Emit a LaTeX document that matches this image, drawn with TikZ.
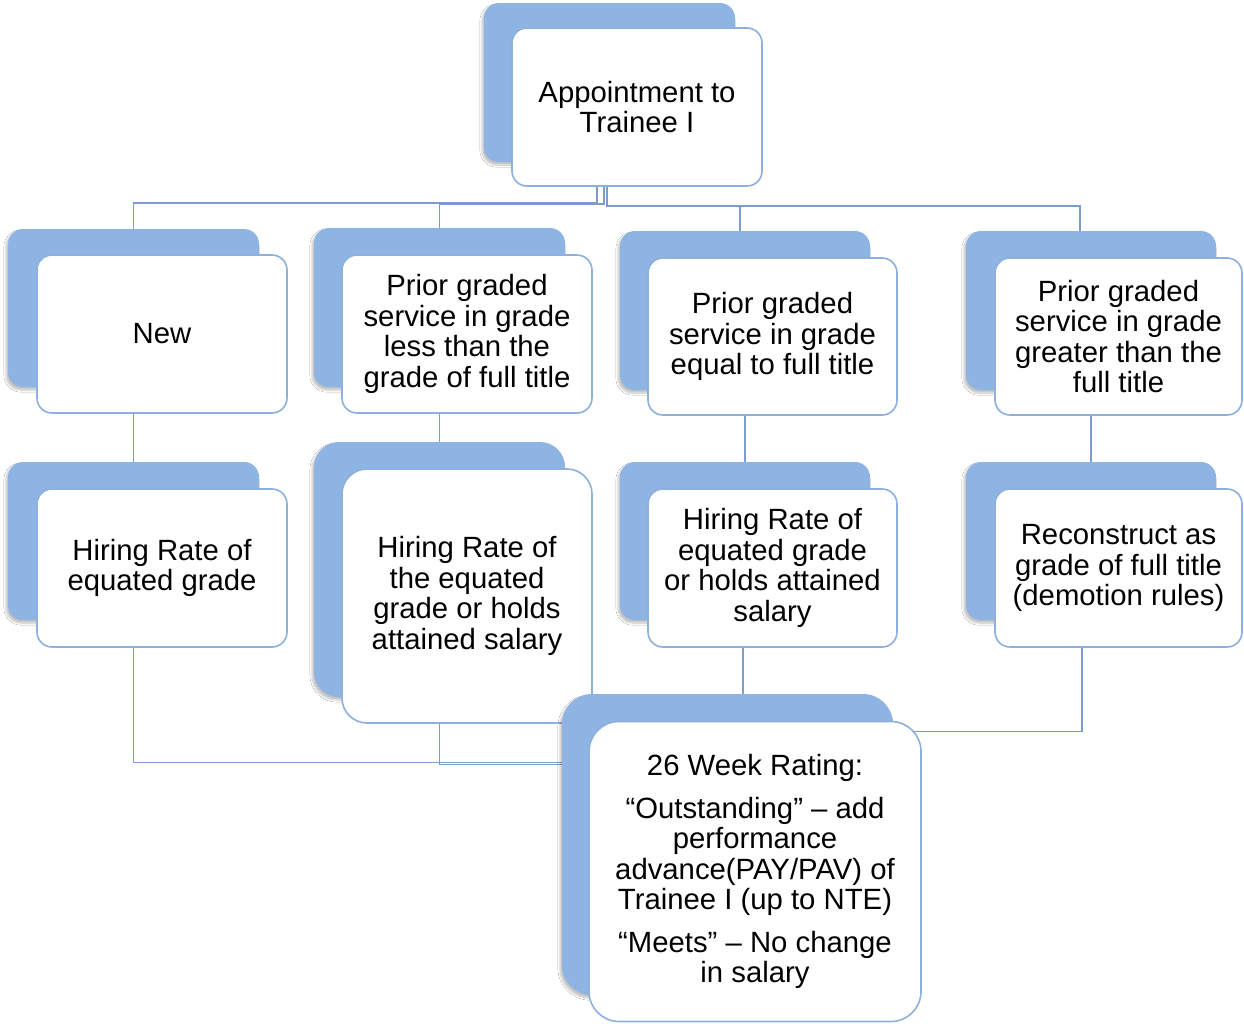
\documentclass[tikz,border=0pt]{standalone}
\usepackage{fontspec}
\setmainfont{Liberation Sans}
\usetikzlibrary{calc,shadows.blur}
\definecolor{cardblue}{HTML}{8EB4E3}
\definecolor{cardedge}{HTML}{8DB0DE}
\definecolor{linkblue}{HTML}{7C9DCB}
\pgfdeclarelayer{bg}
\pgfsetlayers{bg,main}
\begin{document}
\begin{tikzpicture}[x=1pt,y=-1pt,
  backcard/.style={fill=cardblue, draw=none, rounded corners=#1, inner sep=0pt,
    blur shadow={shadow xshift=-2pt, shadow yshift=-3pt, shadow blur steps=6, shadow opacity=25}},
  backcard/.default=15pt,
  frontcard/.style={fill=white, draw=cardedge, line width=1.6pt, rounded corners=#1,
    inner sep=0pt, align=center, font=\fontsize{29.3}{30.5}\selectfont},
  frontcard/.default=15pt,
  link/.style={draw=linkblue, line width=1.5pt},
  sz/.style 2 args={minimum width=#1pt, minimum height=#2pt}]

\useasboundingbox (0,0) rectangle (1244,1023);

% top card
\node[backcard, sz={251}{159}] (topb) at (609.5,82.5) {};
\node[frontcard, sz={250}{158}] (top) at (637,107) {Appointment to\\Trainee I};

% first row
\node[backcard, sz={251}{158}] (newb) at (133.5,308) {};
\node[frontcard, sz={250}{158}] (new) at (162,334) {New};

\node[backcard, sz={251}{159}] (lessb) at (439.5,307.5) {};
\node[frontcard, sz={250}{158}] (less) at (467,334) {Prior graded\\service in grade\\less than the\\grade of full title};

\node[backcard, sz={250}{159}] (equalb) at (745,310.5) {};
\node[frontcard, sz={249}{157}] (equal) at (772.5,336.5) {Prior graded\\service in grade\\equal to full title};

\node[backcard, sz={250}{159}] (greatb) at (1091,310.5) {};
\node[frontcard, sz={247}{157}] (great) at (1118.5,336.5) {Prior graded\\service in grade\\greater than the\\full title};

% second row
\node[backcard, sz={251}{158}] (hire1b) at (133.5,541) {};
\node[frontcard, sz={250}{158}] (hire1) at (162,568) {Hiring Rate of\\equated grade};

\node[backcard=25pt, sz={251}{255}] (hire2b) at (439.5,569.5) {};
\node[frontcard=25pt, sz={250}{254}] (hire2) at (467,596) {Hiring Rate of\\the equated\\grade or holds\\attained salary};

\node[backcard, sz={250}{158}] (hire3b) at (745,541) {};
\node[frontcard, sz={249}{158}] (hire3) at (772.5,568) {Hiring Rate of\\equated grade\\or holds attained\\salary};

\node[backcard, sz={250}{158}] (reconb) at (1091,541) {};
\node[frontcard, sz={247}{158}] (recon) at (1118.5,568) {Reconstruct as\\grade of full title\\(demotion rules)};

% rating card
\node[backcard=30pt, sz={331}{301}] (rateb) at (727.5,844.5) {};
\node[frontcard=30pt, sz={332}{300}] (rate) at (755,871.5)
  {26 Week Rating:\\[12pt]“Outstanding” – add\\performance\\advance(PAY/PAV) of\\Trainee I (up to NTE)\\[12pt]“Meets” – No change\\in salary};

\begin{pgfonlayer}{bg}
  \fill[white] (0,0) rectangle (1244,1023);
  % from the top card to the first row
  \draw[link] ($(top.south)+(-40,0)$) -- ++(0,16) -| (newb.north);
  \draw[link] ($(top.south)+(-33,0)$) -- ++(0,17) -| (lessb.north);
  \draw[link] ($(top.south)+(-30,0)$) -- ++(0,19) -| ($(equalb.north)+(-5,0)$);
  \draw[link] ($(top.south)+(-30,0)$) -- ++(0,19) -| ($(greatb.north)+(-11,0)$);
  % first row to second row
  \draw[link] (new.south -| hire1b.north) -- (hire1b.north);
  \draw[link] (less.south -| hire2b.north) -- (hire2b.north);
  \draw[link] (equal.south -| hire3b.north) -- (hire3b.north);
  \draw[link] (great.south -| reconb.north) -- (reconb.north);
  % second row to the rating card
  \draw[link] (hire1.south -| hire1b.north) |- ($(rateb.west)+(0,-82)$);
  \draw[link] (hire2.south -| hire2b.north) |- ($(rateb.west)+(0,-80)$);
  \draw[link] ($(hire3.south)+(-29.5,0)$) -- ($(rateb.north)+(15.5,0)$);
  \draw[link] ($(recon.south)+(-36.5,0)$) |- ($(rate.north)+(0,11)$);
\end{pgfonlayer}
\end{tikzpicture}
\end{document}
